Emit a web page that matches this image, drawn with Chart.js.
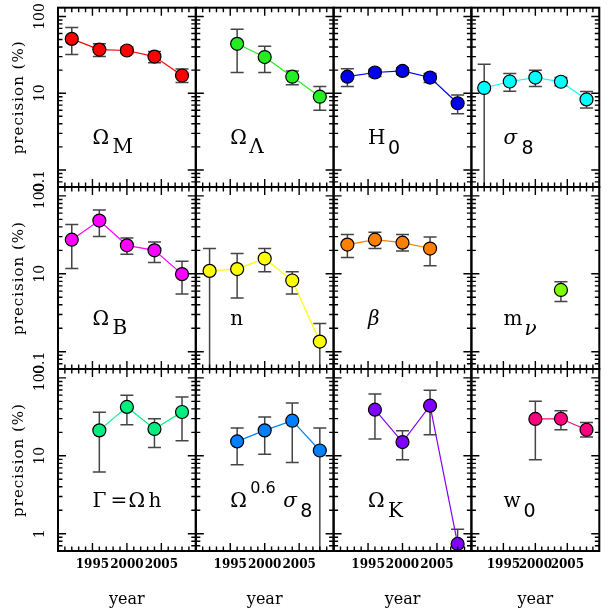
<!DOCTYPE html>
<html><head><meta charset="utf-8">
<script src="https://cdn.jsdelivr.net/npm/chart.js@4/dist/chart.umd.min.js"></script>
<style>
html,body{margin:0;padding:0;background:#fff}
#wrap{position:relative;width:607px;height:616px;overflow:hidden;background:#fff}
#wrap canvas{position:absolute;left:0;top:0}
</style></head>
<body><div id="wrap"></div>
<script>
// ---------- data ----------
const years5 = [1992, 1996, 2000, 2004, 2008];
const years4a = [1996, 2000, 2004, 2008];
const years4b = [1992, 1996, 2000, 2004];
const years3 = [2000, 2004, 2008];
const yearsMnu = [2004];

const omegaMVal = [51, 37, 36, 30, 17];
const omegaMLo  = [32, 30, 33, 25, 13.8];
const omegaMHi  = [72, 44, 40, 35, 20.6];

const omegaLVal = [44, 29.6, 16.4, 9.0];
const omegaLLo  = [18.6, 18.6, 12.9, 6.0];
const omegaLHi  = [68, 41, 19.5, 12.2];

const h0Val = [16.4, 18.6, 19.5, 16.0, 7.4];
const h0Lo  = [12.2, 16.5, 17.5, 13.8, 5.4];
const h0Hi  = [20.9, 20.5, 21.5, 18.0, 9.5];

const sigma8Val = [11.7, 14.2, 16.0, 14.1, 8.3];
const sigma8Lo  = [0.1, 10.6, 12.2, 12.5, 6.4];
const sigma8Hi  = [23.8, 18.0, 19.9, 16.0, 10.5];

const omegaBVal = [27.4, 48.2, 23.2, 20.0, 9.9];
const omegaBLo  = [11.7, 30.2, 17.8, 14.0, 5.5];
const omegaBHi  = [42.8, 65.8, 28.7, 25.6, 14.5];

const nVal = [10.9, 11.5, 15.7, 8.2, 1.35];
const nLo  = [0.1, 4.9, 10.6, 5.5, 0.1];
const nHi  = [21.1, 18.2, 21.1, 10.6, 2.3];

const betaVal = [23.7, 27.4, 25.1, 21.1];
const betaLo  = [16.2, 21.1, 19.6, 12.7];
const betaHi  = [32.0, 34.2, 32.0, 29.6];

const mnuVal = [6.2];
const mnuLo  = [4.4];
const mnuHi  = [7.9];

const gammaVal = [21.2, 42.4, 22.1, 36.5];
const gammaLo  = [6.2, 25.1, 12.8, 15.6];
const gammaHi  = [36.1, 59.7, 29.9, 56.9];

const os8Val = [15.3, 21.2, 28.2, 11.7];
const os8Lo  = [7.7, 10.5, 8.2, 0.1];
const os8Hi  = [22.7, 31.5, 47.7, 22.7];

const omegaKVal = [39.1, 15.0, 44.0, 0.74];
const omegaKLo  = [16.4, 8.9, 18.6, 0.1];
const omegaKHi  = [62.2, 21.0, 69.2, 1.14];

const w0Val = [29.7, 29.9, 21.6];
const w0Lo  = [8.9, 21.6, 17.4];
const w0Hi  = [50.0, 37.9, 26.8];

const xTickLabels = ['1995', '2000', '2005'];
const yTickValues = [1, 10, 100];

// ---------- layout ----------
const W = 607, H = 616;
const colEdges = [58, 195.8, 333.6, 471.4, 609.2];
const rowEdges = [6, 187, 369, 551];
const SERIF = "'DejaVu Serif', serif";
const SANS = "'DejaVu Sans', sans-serif";
const MAIN = "20px " + SERIF;
const ITAL = "italic 20px " + SERIF;
const DIG = "19px " + SANS;

const panels = [
  {years: years5, val: omegaMVal, lo: omegaMLo, hi: omegaMHi, color: '#ff0000',
   label: [['Ω', 0, 0, MAIN], ['M', 20, 9, MAIN]]},
  {years: years4a, val: omegaLVal, lo: omegaLLo, hi: omegaLHi, color: '#22ee22',
   label: [['Ω', 0, 0, MAIN], ['Λ', 19, 9, MAIN]]},
  {years: years5, val: h0Val, lo: h0Lo, hi: h0Hi, color: '#0000ee',
   label: [['H', 0, 0, MAIN], ['0', 20, 10, DIG]]},
  {years: years5, val: sigma8Val, lo: sigma8Lo, hi: sigma8Hi, color: '#00ffff',
   label: [['σ', 0, 0, ITAL], ['8', 18, 10, DIG]]},
  {years: years5, val: omegaBVal, lo: omegaBLo, hi: omegaBHi, color: '#ff00ff',
   label: [['Ω', 0, 0, MAIN], ['B', 20, 9, MAIN]]},
  {years: years5, val: nVal, lo: nLo, hi: nHi, color: '#ffff00',
   label: [['n', 0, 0, MAIN]]},
  {years: years4b, val: betaVal, lo: betaLo, hi: betaHi, color: '#ff8000',
   label: [['β', 0, 0, ITAL]]},
  {years: yearsMnu, val: mnuVal, lo: mnuLo, hi: mnuHi, color: '#80ff00',
   label: [['m', 0, 0, MAIN], ['ν', 21, 10, ITAL]]},
  {years: years4a, val: gammaVal, lo: gammaLo, hi: gammaHi, color: '#00ee80',
   label: [['Γ', 0, 0, MAIN], ['=', 18, 0, MAIN], ['Ω', 36, 0, MAIN], ['h', 56, 0, MAIN]]},
  {years: years4a, val: os8Val, lo: os8Lo, hi: os8Hi, color: '#0080ff',
   label: [['Ω', 0, 0, MAIN], ['0.6', 20, -14, "16px " + SANS], ['σ', 53, 0, ITAL], ['8', 70, 10, DIG]]},
  {years: years4a, val: omegaKVal, lo: omegaKLo, hi: omegaKHi, color: '#8000ff',
   label: [['Ω', 0, 0, MAIN], ['K', 20, 10, MAIN]]},
  {years: years3, val: w0Val, lo: w0Lo, hi: w0Hi, color: '#ff0080',
   label: [['w', 0, 0, MAIN], ['0', 20, 10, DIG]]}
];

function rotText(ctx, t, cx, cy, align, font, spacing) {
  ctx.save();
  ctx.translate(cx, cy);
  ctx.rotate(-Math.PI / 2);
  ctx.font = font;
  if (spacing) ctx.letterSpacing = spacing;
  ctx.textAlign = align;
  ctx.textBaseline = 'middle';
  ctx.fillText(t, 0, 0);
  ctx.restore();
}

const panelPlugin = {
  id: 'panel',
  beforeDatasetsDraw(chart, args, o) {
    const {ctx, chartArea: a} = chart;
    const x = chart.scales.x, y = chart.scales.y;
    ctx.save();
    ctx.beginPath();
    ctx.rect(a.left, a.top, a.right - a.left, a.bottom - a.top);
    ctx.clip();
    ctx.strokeStyle = '#444';
    ctx.lineWidth = 1.5;
    o.years.forEach((yr, i) => {
      const px = x.getPixelForValue(yr);
      const pl = y.getPixelForValue(o.lo[i]);
      const ph = y.getPixelForValue(o.hi[i]);
      ctx.beginPath();
      ctx.moveTo(px, pl); ctx.lineTo(px, ph);
      ctx.moveTo(px - 6.5, ph); ctx.lineTo(px + 6.5, ph);
      if (o.lo[i] >= y.min) { ctx.moveTo(px - 6.5, pl); ctx.lineTo(px + 6.5, pl); }
      ctx.stroke();
    });
    ctx.restore();
  },
  afterDraw(chart, args, o) {
    const {ctx, chartArea: a} = chart;
    const x = chart.scales.x, y = chart.scales.y;
    ctx.save();
    // ticks
    ctx.strokeStyle = '#000';
    ctx.lineWidth = 1.4;
    ctx.beginPath();
    for (let d = 0.1; d <= 100; d *= 10) {
      for (let k = 1; k <= 9; k++) {
        const v = Math.round(d * k * 1000) / 1000;
        if (v < y.min || v > y.max) continue;
        const py = y.getPixelForValue(v);
        const len = k === 1 ? 8 : 4.5;
        ctx.moveTo(a.left, py); ctx.lineTo(a.left + len, py);
        ctx.moveTo(a.right, py); ctx.lineTo(a.right - len, py);
      }
    }
    for (let yr = Math.ceil(x.min); yr <= x.max; yr++) {
      const px = x.getPixelForValue(yr);
      const len = yr % 5 === 0 ? 8 : 4.5;
      ctx.moveTo(px, a.bottom); ctx.lineTo(px, a.bottom - len);
      ctx.moveTo(px, a.top); ctx.lineTo(px, a.top + len);
    }
    ctx.stroke();
    // frame
    ctx.lineWidth = 2;
    ctx.strokeRect(a.left, a.top, a.right - a.left, a.bottom - a.top);
    // panel symbol
    ctx.fillStyle = '#000';
    ctx.textBaseline = 'alphabetic';
    ctx.textAlign = 'left';
    const lx = x.getPixelForValue(1995), ly = y.getPixelForValue(2.2);
    o.label.forEach(([t, dx, dy, f]) => {
      ctx.font = f;
      ctx.fillText(t, lx + dx, ly + dy);
    });
    // y tick labels + axis title (left column)
    if (o.col === 0) {
      yTickValues.forEach(v => {
        const py = y.getPixelForValue(v);
        if (v === 1 && o.row < 2) {
          rotText(ctx, '0.1', 40, py, 'right', "14px " + SERIF);
        } else {
          rotText(ctx, String(v), 40, py, 'center', "14px " + SERIF);
        }
      });
      rotText(ctx, 'precision (%)', 19, (a.top + a.bottom) / 2, 'center', "15px " + SERIF, '1px');
    }
    // x tick labels + title (bottom row)
    if (o.row === 2) {
      ctx.font = "bold 12px " + SERIF;
      ctx.textAlign = 'center';
      ctx.textBaseline = 'middle';
      xTickLabels.forEach(t => {
        ctx.fillText(t, x.getPixelForValue(Number(t)), a.bottom + 14);
      });
      ctx.font = "16px " + SERIF;
      ctx.textBaseline = 'alphabetic';
      ctx.fillText('year', (a.left + a.right) / 2, 604);
    }
    ctx.restore();
  }
};

const wrap = document.getElementById('wrap');
panels.forEach((p, idx) => {
  const row = Math.floor(idx / 4), col = idx % 4;
  const cv = document.createElement('canvas');
  cv.width = W; cv.height = H;
  cv.style.width = W + 'px'; cv.style.height = H + 'px';
  wrap.appendChild(cv);
  new Chart(cv, {
    type: 'line',
    data: {
      datasets: [{
        data: p.years.map((yr, i) => ({x: yr, y: p.val[i]})),
        borderColor: p.color,
        borderWidth: 1.2,
        backgroundColor: p.color,
        pointBackgroundColor: p.color,
        pointBorderColor: '#000',
        pointBorderWidth: 1.2,
        pointRadius: 6.5,
        tension: 0,
        clip: false
      }]
    },
    options: {
      responsive: false,
      animation: false,
      devicePixelRatio: 1,
      events: [],
      layout: {padding: {
        left: colEdges[col], top: rowEdges[row],
        right: W - colEdges[col + 1], bottom: H - rowEdges[row + 1]
      }},
      scales: {
        x: {type: 'linear', min: 1990, max: 2010, display: false},
        y: {type: 'logarithmic', min: 0.6, max: 130, display: false}
      },
      plugins: {
        legend: {display: false},
        tooltip: {enabled: false},
        panel: {years: p.years, lo: p.lo, hi: p.hi, label: p.label, row: row, col: col}
      }
    },
    plugins: [panelPlugin]
  });
});
</script>
</body></html>
